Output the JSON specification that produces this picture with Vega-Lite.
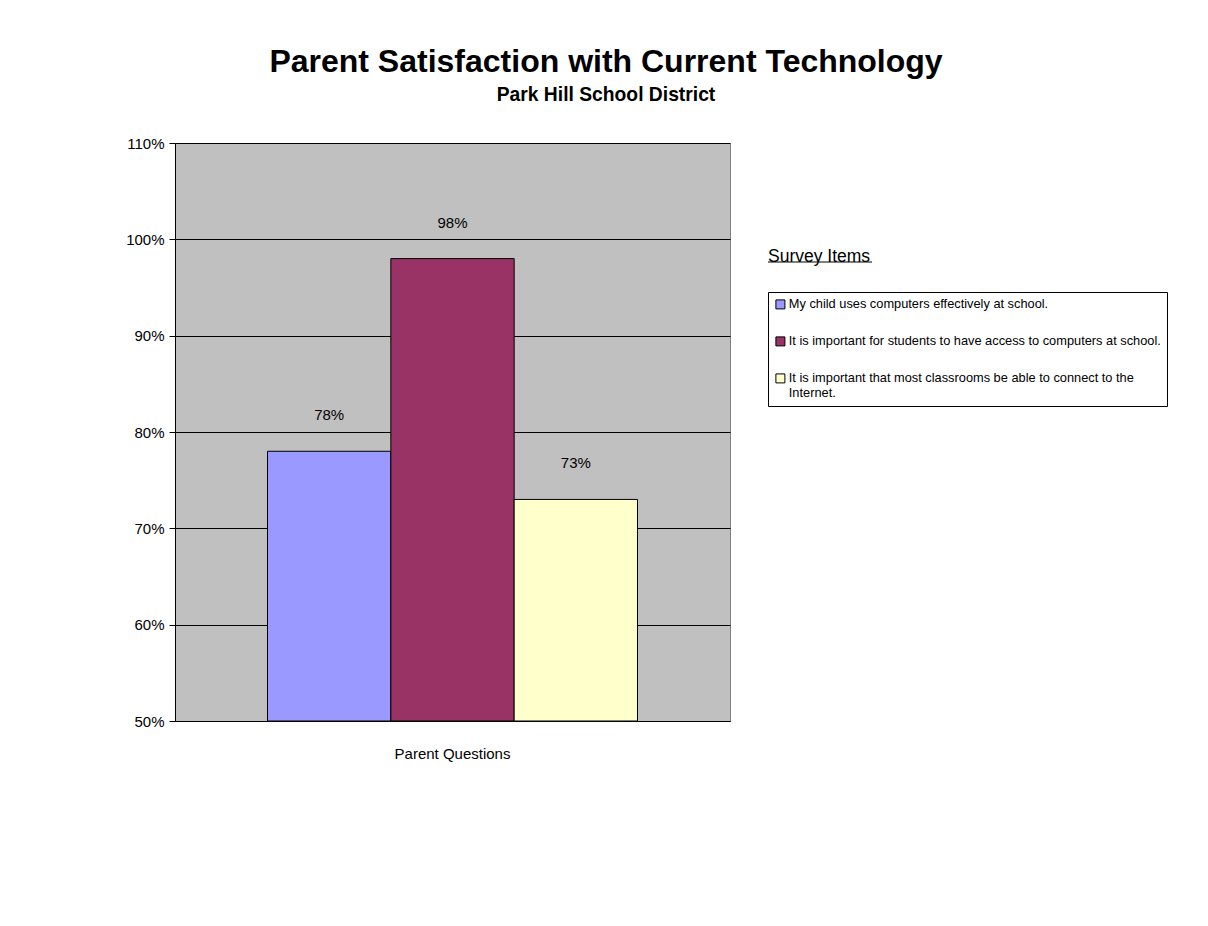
{
  "$schema": "https://vega.github.io/schema/vega-lite/v6.json",
  "width": 555,
  "height": 578,
  "autosize": {"type": "none"},
  "padding": {"left": 175, "top": 143, "right": 478, "bottom": 205},
  "background": "white",
  "title": {
    "text": "Parent Satisfaction with Current Technology",
    "subtitle": "Park Hill School District",
    "anchor": "middle",
    "dx": 153.5,
    "font": "Liberation Sans",
    "fontSize": 32,
    "fontWeight": "bold",
    "color": "black",
    "subtitleFont": "Liberation Sans",
    "subtitleFontSize": 19.3,
    "subtitleFontWeight": "bold",
    "subtitleColor": "black",
    "subtitlePadding": 7,
    "offset": 30
  },
  "config": {
    "view": {"stroke": "#808080", "fill": "#C0C0C0"}
  },
  "data": {
    "values": [
      {"category": "Parent Questions", "item": "My child uses computers effectively at school.", "value": 0.78},
      {"category": "Parent Questions", "item": "It is important for students to have access to computers at school.", "value": 0.98},
      {"category": "Parent Questions", "item": "It is important that most classrooms be able to connect to the Internet.", "value": 0.73}
    ]
  },
  "encoding": {
    "x": {
      "field": "category",
      "type": "nominal",
      "scale": {"paddingInner": 0, "paddingOuter": 0.25},
      "axis": {
        "title": null,
        "ticks": false,
        "labelAngle": 0,
        "labelFont": "Liberation Sans",
        "labelFontSize": 15,
        "labelColor": "black",
        "labelPadding": 25,
        "domainColor": "black"
      }
    },
    "xOffset": {
      "field": "item",
      "type": "nominal",
      "sort": null,
      "scale": {"paddingInner": 0, "paddingOuter": 0}
    },
    "y": {
      "field": "value",
      "type": "quantitative",
      "scale": {"domain": [0.5, 1.1], "nice": false, "zero": false},
      "axis": {
        "title": null,
        "format": ".0%",
        "values": [0.5, 0.6, 0.7, 0.8, 0.9, 1.0, 1.1],
        "grid": true,
        "gridColor": "black",
        "gridWidth": 1,
        "domainColor": "black",
        "tickColor": "black",
        "tickSize": 6,
        "labelFont": "Liberation Sans",
        "labelFontSize": 15,
        "labelColor": "black",
        "labelPadding": 5
      }
    }
  },
  "layer": [
    {
      "mark": {"type": "bar", "stroke": "black", "strokeWidth": 1},
      "encoding": {
        "y2": {"datum": 0.5},
        "fill": {
          "field": "item",
          "type": "nominal",
          "sort": null,
          "scale": {"range": ["#9999FF", "#993366", "#FFFFCC"]},
          "legend": {
            "title": null,
            "orient": "none",
            "legendX": 593,
            "legendY": 149,
            "strokeColor": "black",
            "fillColor": "white",
            "padding": 6,
            "symbolType": "square",
            "symbolSize": 81,
            "symbolStrokeColor": "black",
            "symbolStrokeWidth": 1,
            "symbolOpacity": 1,
            "labelFont": "Liberation Sans",
            "labelFontSize": 12.8,
            "labelColor": "black",
            "labelLimit": 400,
            "labelOffset": 2,
            "rowPadding": 22,
            "labelExpr": "datum.label == 'It is important that most classrooms be able to connect to the Internet.' ? ['It is important that most classrooms be able to connect to the', 'Internet.'] : datum.label"
          }
        }
      }
    },
    {
      "mark": {"type": "text", "dy": -36, "font": "Liberation Sans", "fontSize": 15, "color": "black", "baseline": "middle"},
      "encoding": {
        "text": {"field": "value", "format": ".0%"},
        "opacity": {
          "field": "category",
          "type": "ordinal",
          "scale": {"range": [1, 1]},
          "legend": {
            "title": null,
            "orient": "none",
            "legendX": 593,
            "legendY": 67,
            "padding": 0,
            "symbolType": "M-1,-0.012H1V0.012H-1Z",
            "symbolSize": 10816,
            "symbolFillColor": "black",
            "symbolStrokeColor": "black",
            "symbolStrokeWidth": 0,
            "labelExpr": "'Survey Items'",
            "labelFont": "Liberation Sans",
            "labelFontSize": 17.5,
            "labelColor": "black",
            "labelBaseline": "alphabetic",
            "labelOffset": -104,
            "labelLimit": 300
          }
        }
      }
    }
  ]
}
